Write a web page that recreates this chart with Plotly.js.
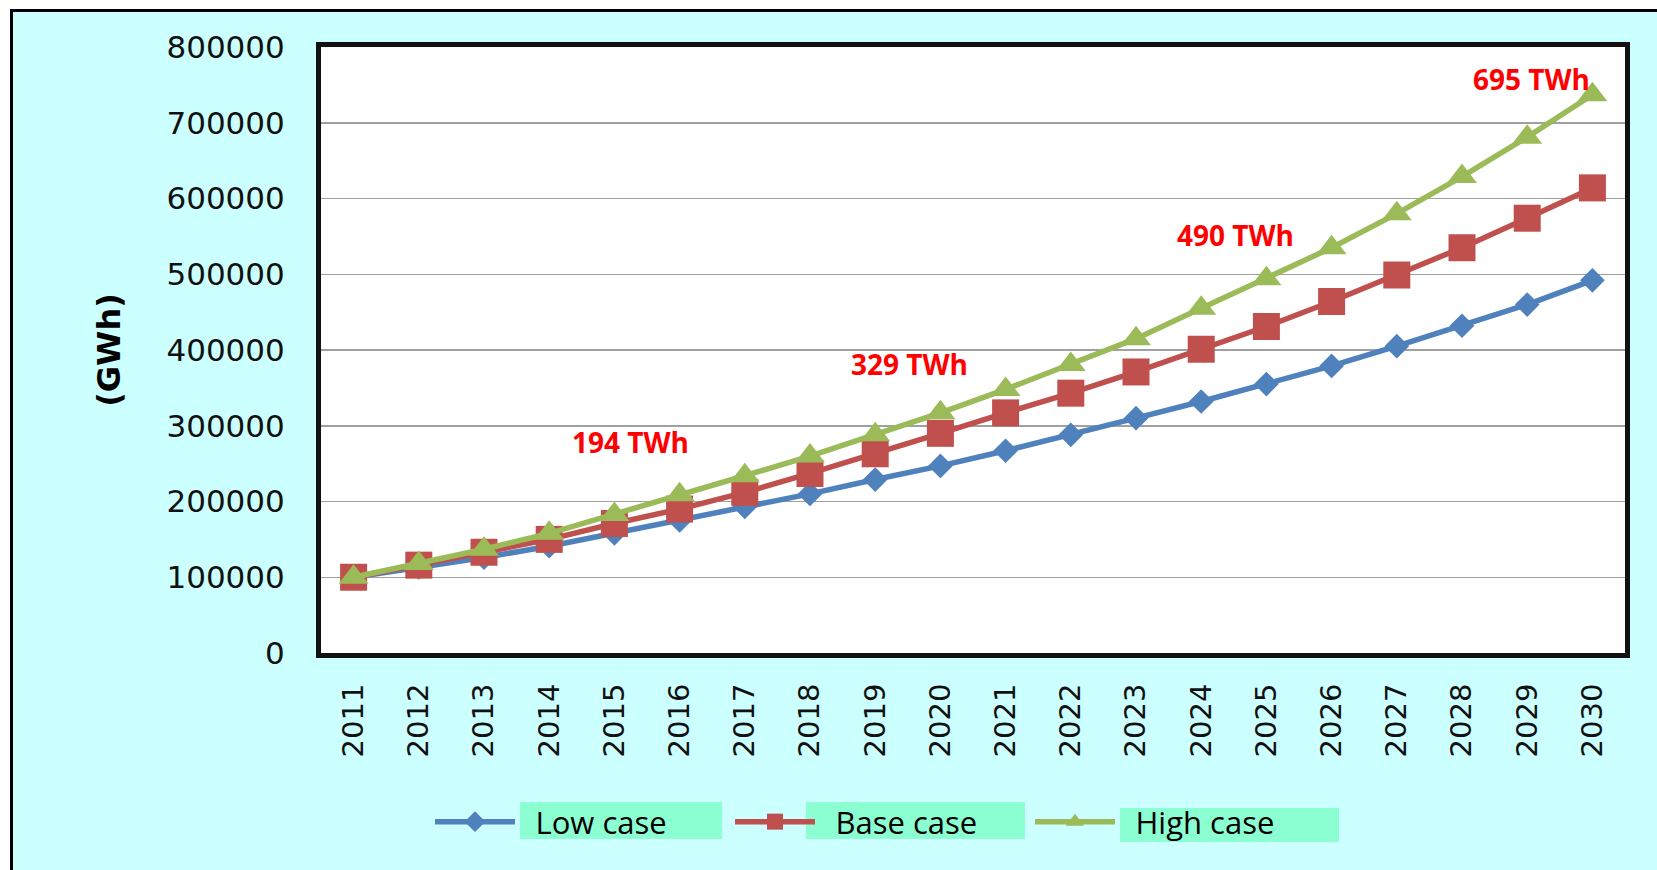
<!DOCTYPE html>
<html>
<head>
<meta charset="utf-8">
<script src="https://cdn.plot.ly/plotly-3.0.1.min.js"></script>
<style>
  html, body { margin: 0; padding: 0; background: #ffffff; width: 1657px; height: 870px; overflow: hidden; }
  #frame { position: absolute; left: 10px; top: 9px; width: 1644px; height: 858px;
           border-left: 3px solid #000; border-top: 3px solid #000; background: #CCFFFF; }
  #chart { width: 1644px; height: 858px; }
</style>
</head>
<body>
<div id="frame"><div id="chart"></div></div>
<script>
// ---- data ----
const years = ["2011","2012","2013","2014","2015","2016","2017","2018","2019","2020",
               "2021","2022","2023","2024","2025","2026","2027","2028","2029","2030"];
const lowCase  = [100000,113000,126000,141000,158000,175000,193000,210000,229000,247000,
                  267000,288000,310000,332000,355000,379000,405000,432000,460000,492000];
const baseCase = [100000,116000,133000,150000,171000,190000,212000,237000,263000,290000,
                  317000,343000,371000,401000,431000,464000,499000,535000,574000,614000];
const highCase = [100000,118000,137000,158000,183000,209000,234000,260000,288000,317000,
                  348000,381000,415000,455000,494000,535000,580000,629000,681000,737000];
const seriesNames = ["Low case","Base case","High case"];
const callouts = ["194 TWh","329 TWh","490 TWh","695 TWh"];

// ---- layout geometry (page pixel -> paper) ----
const W = 1644, H = 858;
const M = {l: 308, r: 32, t: 35, b: 217};
const PW = W - M.l - M.r, PH = H - M.t - M.b;
const OX = 13, OY = 12; // frame offset on page
const px = x => (x - OX - M.l) / PW;
const py = y => (H - M.b - (y - OY)) / PH;

const colors = ["#4F81BD", "#C0504D", "#9BBB59"];
const legendPad = "\u2002"; // spacing between legend symbol and label
const traces = [
  {x: years, y: lowCase, name: legendPad + seriesNames[0], type: "scatter", mode: "lines+markers",
   line: {color: colors[0], width: 5.5}, marker: {symbol: "diamond", size: 19, color: colors[0]}},
  {x: years, y: baseCase, name: legendPad + seriesNames[1], type: "scatter", mode: "lines+markers",
   line: {color: colors[1], width: 5.5}, marker: {symbol: "square", size: 27, color: colors[1]}},
  {x: years, y: highCase, name: legendPad + seriesNames[2], type: "scatter", mode: "lines+markers",
   line: {color: colors[2], width: 5.5}, marker: {symbol: "triangle-up", size: 26, color: colors[2]}}
];

const mint = "#8CFFD2";
const boxes = [[520,722,802,839],[806,1025,802,839],[1120,1339,808,842]];
const shapes = boxes.map(b => ({type: "rect", xref: "paper", yref: "paper",
  x0: px(b[0]), x1: px(b[1]), y0: py(b[3]), y1: py(b[2]), fillcolor: mint, line: {width: 0}, layer: "below"}));

const calloutPos = [[630,442],[909,364],[1235,235],[1531,79]];
const annotations = callouts.map((t, i) => ({
  text: "<b>" + t + "</b>", xref: "paper", yref: "paper",
  x: px(calloutPos[i][0]), y: py(calloutPos[i][1]), xanchor: "center", yanchor: "middle",
  showarrow: false,
  font: {family: "Open Sans", size: 28, color: "#FF0000"}
}));

const layout = {
  width: W, height: H,
  margin: M,
  paper_bgcolor: "#CCFFFF",
  plot_bgcolor: "#FFFFFF",
  font: {family: "DejaVu Sans", color: "#000"},
  xaxis: {
    type: "category", range: [-0.5, 19.5],
    showline: true, mirror: true, linecolor: "#111", linewidth: 5,
    showgrid: false, ticks: "", tickangle: -90,
    tickfont: {family: "DejaVu Sans", size: 29, color: "#111"},
    ticklabelstandoff: 14
  },
  yaxis: {
    range: [0, 800000], dtick: 100000, tickformat: "d",
    showline: true, mirror: true, linecolor: "#111", linewidth: 5,
    showgrid: true, gridcolor: "#A0A0A0", gridwidth: 1.5, zeroline: false,
    ticks: "", tickfont: {family: "DejaVu Sans", size: 31, color: "#111"},
    ticklabelstandoff: 25,
    title: {text: "<b>(GWh)</b>", font: {family: "DejaVu Sans", size: 32, color: "#000"}, standoff: 38}
  },
  showlegend: true,
  legend: {
    orientation: "h", x: px(430), xanchor: "left", y: py(822), yanchor: "middle",
    bgcolor: "rgba(0,0,0,0)", font: {family: "Open Sans", size: 31, color: "#000"},
    itemwidth: 80, entrywidth: 205, itemsizing: "trace", traceorder: "normal"
  },
  shapes: shapes,
  annotations: annotations
};

Plotly.newPlot("chart", traces, layout, {displayModeBar: false, staticPlot: true});
</script>
</body>
</html>
